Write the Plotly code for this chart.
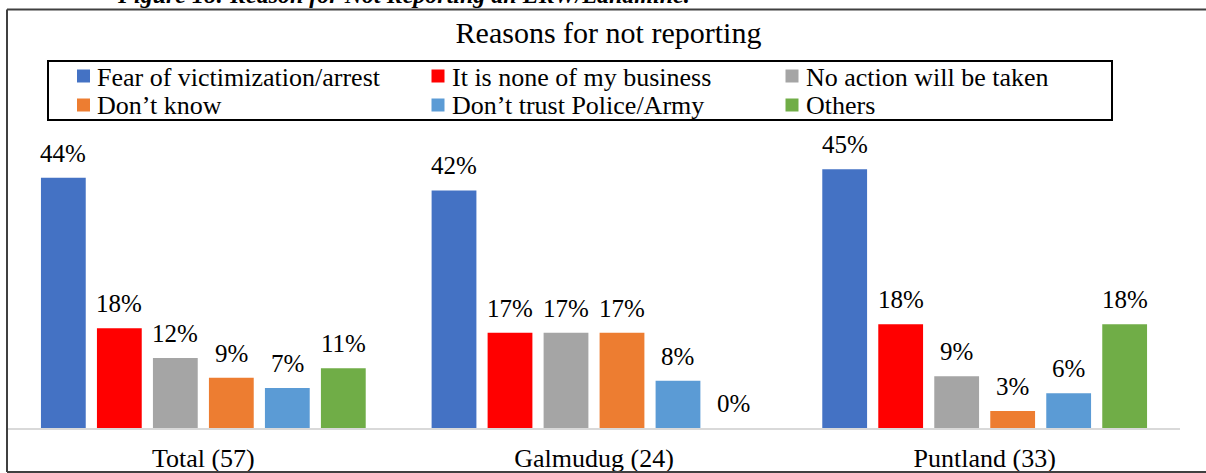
import plotly.graph_objects as go

# ---- data ----
categories = ["Total (57)", "Galmudug (24)", "Puntland (33)"]
series_names = [
    "Fear of victimization/arrest",
    "It is none of my business",
    "No action will be taken",
    "Don’t know",
    "Don’t trust Police/Army",
    "Others",
]
fear = [43.9, 41.7, 45.4]
none_business = [17.5, 16.7, 18.2]
no_action = [12.3, 16.7, 9.1]
dont_know = [8.8, 16.7, 3.0]
dont_trust = [7.0, 8.3, 6.1]
others = [10.5, 0.0, 18.2]
series_values = [fear, none_business, no_action, dont_know, dont_trust, others]
colors = ["#4472C4", "#FF0000", "#A5A5A5", "#ED7D31", "#5B9BD5", "#70AD47"]

# ---- layout geometry (pixels) ----
W, H = 1206, 473
ML, MR, MT, MB = 8, 26, 130, 45
PW = W - ML - MR
PH = H - MT - MB
BARGAP = 0.14
BARGROUPGAP = 0.2
YMAX = 52.3

FONT = "Liberation Serif"


def px_x(p):
    return (p - ML) / PW


def px_y(p):
    return (H - MB - p) / PH


fig = go.Figure()
for name, vals, col in zip(series_names, series_values, colors):
    fig.add_trace(go.Bar(
        x=categories, y=vals, name=name,
        marker=dict(color=col, line=dict(width=0)),
        showlegend=False,
    ))

# value labels above bars
cat_px = PW / len(categories)
slot = cat_px * (1 - BARGAP) / len(series_names)
for i, vals in enumerate(series_values):
    shift = (i - (len(series_names) - 1) / 2) * slot
    for c, v in zip(categories, vals):
        fig.add_annotation(
            x=c, y=v, xref="x", yref="y", text=f"{int(v + 0.5)}%",
            showarrow=False, xshift=shift, yanchor="bottom", yshift=9,
            font=dict(family=FONT, size=25, color="#000000"),
        )

# legend (3 columns x 2 rows, boxed)
leg_cols = [83.5, 438, 792]
leg_rows = [76, 105]
fig.add_shape(type="rect", xref="paper", yref="paper",
              x0=px_x(48), x1=px_x(1112), y0=px_y(61), y1=px_y(120),
              line=dict(color="#000000", width=2), fillcolor="rgba(0,0,0,0)")
for i, (name, col) in enumerate(zip(series_names, colors)):
    cx = leg_cols[i % 3]
    cy = leg_rows[i // 3]
    fig.add_shape(type="rect", xref="paper", yref="paper",
                  x0=px_x(cx - 6.5), x1=px_x(cx + 6.5),
                  y0=px_y(cy - 6.5), y1=px_y(cy + 6.5),
                  line=dict(width=0), fillcolor=col)
    fig.add_annotation(
        text=name, xref="paper", yref="paper",
        x=px_x(cx + 11.5), y=px_y(cy + 1), xanchor="left", yanchor="middle",
        showarrow=False, font=dict(family=FONT, size=26, color="#000000"),
    )

# caption (cut off at top)
fig.add_annotation(
    text="<b><i>Figure 18: Reason for Not Reporting an ERW/Landmine.</i></b>",
    xref="paper", yref="paper", x=px_x(403), y=px_y(-5),
    xanchor="center", yanchor="middle", showarrow=False,
    font=dict(family=FONT, size=24, color="#000000"),
)

# outer frame
frame = dict(type="line", xref="paper", yref="paper",
             line=dict(color="#404040", width=2))
fig.add_shape(**frame, x0=px_x(7), x1=px_x(1240), y0=px_y(9.5), y1=px_y(9.5))
fig.add_shape(**frame, x0=px_x(7), x1=px_x(1240), y0=px_y(472), y1=px_y(472))
fig.add_shape(**frame, x0=px_x(7), x1=px_x(7), y0=px_y(9.5), y1=px_y(472))

fig.update_layout(
    width=W, height=H,
    margin=dict(l=ML, r=MR, t=MT, b=MB, autoexpand=False),
    paper_bgcolor="white", plot_bgcolor="white",
    barmode="group", bargap=BARGAP, bargroupgap=BARGROUPGAP,
    font=dict(family=FONT, size=26, color="#000000"),
    title=dict(text="Reasons for not reporting", x=px_x(608.5), xref="paper",
               y=1 - 32 / H, yref="container", xanchor="center", yanchor="middle",
               font=dict(family=FONT, size=30, color="#000000")),
    showlegend=False,
)
fig.update_xaxes(showline=True, linecolor="#D9D9D9", linewidth=2,
                 ticks="", showgrid=False, ticklabelstandoff=6, automargin=False,
                 tickfont=dict(family=FONT, size=26, color="#000000"))
fig.update_yaxes(range=[0, YMAX], visible=False, showgrid=False, automargin=False)

fig.write_html("out.html", config={"displayModeBar": False},
               post_script="document.body.style.margin='0';")
